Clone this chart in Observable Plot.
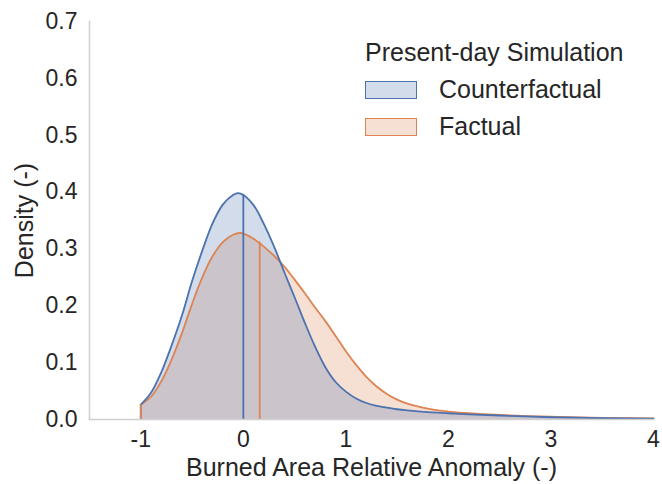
<!DOCTYPE html>
<html>
<head>
<meta charset="utf-8">
<script src="https://cdn.jsdelivr.net/npm/d3@7"></script>
<script src="https://cdn.jsdelivr.net/npm/@observablehq/plot@0.6"></script>
<style>
  body { margin: 0; background: #ffffff; }
  #wrap { position: relative; width: 662px; height: 484px; font-family: "Liberation Sans", Arial, sans-serif; color: #262626; }
  #wrap svg { font-family: "Liberation Sans", Arial, sans-serif; }
  #wrap svg [aria-label="x-axis label"] text, #wrap svg [aria-label="y-axis label"] text { font-size: 25px; }
  .legend { position: absolute; left: 365px; top: 37px; }
  .legend .title { font-size: 25px; line-height: 30px; white-space: nowrap; }
  .legend .item { position: relative; height: 36.5px; }
  .legend .sw { position: absolute; left: 0; top: 8px; width: 50px; height: 16px; border-width: 1.5px; border-style: solid; }
  .legend .lab { position: absolute; left: 74px; top: 1px; font-size: 25px; line-height: 30px; white-space: nowrap; }
</style>
</head>
<body>
<div id="wrap"></div>
<script>
// Counterfactual (blue) density curve
const cfX = [-1.0, -0.9, -0.8, -0.7, -0.6, -0.5, -0.4, -0.3, -0.2, -0.1, -0.05, 0.0, 0.1, 0.2, 0.3, 0.4, 0.5, 0.6, 0.7, 0.8, 0.9, 1.0, 1.1, 1.2, 1.3, 1.4, 1.5, 1.6, 1.8, 2.0, 2.2, 2.5, 3.0, 3.5, 4.0];
const cfY = [0.026, 0.047, 0.083, 0.130, 0.182, 0.243, 0.297, 0.345, 0.378, 0.395, 0.398, 0.395, 0.377, 0.344, 0.304, 0.259, 0.215, 0.170, 0.128, 0.092, 0.066, 0.049, 0.037, 0.029, 0.024, 0.021, 0.018, 0.016, 0.013, 0.011, 0.009, 0.007, 0.004, 0.0025, 0.0015];
// Factual (orange) density curve
const fX = [-1.0, -0.9, -0.8, -0.7, -0.6, -0.5, -0.4, -0.3, -0.2, -0.1, -0.03, 0.0, 0.1, 0.2, 0.3, 0.4, 0.5, 0.6, 0.7, 0.8, 0.9, 1.0, 1.1, 1.2, 1.3, 1.4, 1.5, 1.6, 1.7, 1.8, 1.9, 2.0, 2.2, 2.5, 3.0, 3.5, 4.0];
const fY = [0.026, 0.040, 0.067, 0.105, 0.151, 0.203, 0.250, 0.287, 0.312, 0.325, 0.328, 0.327, 0.318, 0.304, 0.288, 0.269, 0.246, 0.222, 0.197, 0.173, 0.147, 0.120, 0.096, 0.075, 0.058, 0.045, 0.035, 0.028, 0.023, 0.019, 0.016, 0.014, 0.011, 0.008, 0.005, 0.003, 0.002];
// Central values (vertical lines)
const centerX = [0.0, 0.16];
const centerY = [0.396, 0.312];

const seriesNames = ["Counterfactual", "Factual"];
const seriesColors = ["#4c72b0", "#dd8452"];
const xTicks = [-1, 0, 1, 2, 3, 4];
const yTicks = [0, 0.1, 0.2, 0.3, 0.4, 0.5, 0.6, 0.7];
const legendTitle = "Present-day Simulation";
const xLabel = "Burned Area Relative Anomaly (-)";
const yLabel = "Density (-)";

const cf = cfX.map((x, i) => ({x, y: cfY[i], s: seriesNames[0]}));
const fa = fX.map((x, i) => ({x, y: fY[i], s: seriesNames[1]}));
const centers = seriesNames.map((s, i) => ({s, x: centerX[i], y: centerY[i]}));
const starts = [cf[0], fa[0]];

const color = {domain: seriesNames, range: seriesColors};
const textColor = "#262626";
const curve = "catmull-rom";

const plot = Plot.plot({
  width: 662,
  height: 484,
  marginLeft: 89,
  marginRight: 9,
  marginTop: 21,
  marginBottom: 65,
  style: {background: "transparent", color: textColor},
  x: {domain: [-1.5, 4]},
  y: {domain: [0, 0.7]},
  color,
  marks: [
    Plot.areaY(fa, {x: "x", y: "y", fill: "s", fillOpacity: 0.25, curve}),
    Plot.areaY(cf, {x: "x", y: "y", fill: "s", fillOpacity: 0.25, curve}),
    Plot.line(fa, {x: "x", y: "y", stroke: "s", strokeWidth: 1.8, curve}),
    Plot.line(cf, {x: "x", y: "y", stroke: "s", strokeWidth: 1.8, curve}),
    Plot.ruleX(starts, {x: "x", y1: 0, y2: "y", stroke: "s", strokeWidth: 1.8}),
    Plot.ruleX(centers, {x: "x", y1: 0, y2: "y", stroke: "s", strokeWidth: 1.8}),
    Plot.frame({anchor: "left", stroke: "#d0d0d0", strokeWidth: 1.6}),
    Plot.frame({anchor: "bottom", stroke: "#d0d0d0", strokeWidth: 1.6}),
    Plot.axisX({ticks: xTicks, tickFormat: d => d < 0 ? "-" + Math.abs(d) : String(d), tickSize: 0, tickPadding: 11, fontSize: 23, label: xLabel, labelAnchor: "center", labelOffset: 56, labelArrow: false}),
    Plot.axisY({ticks: yTicks, tickFormat: d3.format(".1f"), tickSize: 0, tickPadding: 12, fontSize: 23, label: yLabel, labelAnchor: "center", labelOffset: 74, labelArrow: false})
  ]
});

const wrap = document.getElementById("wrap");
wrap.appendChild(plot);

// Legend overlay
const legend = document.createElement("div");
legend.className = "legend";
const t = document.createElement("div");
t.className = "title";
t.textContent = legendTitle;
legend.appendChild(t);
const gap = document.createElement("div");
gap.style.height = "6px";
legend.appendChild(gap);
seriesNames.forEach((name, i) => {
  const item = document.createElement("div");
  item.className = "item";
  const sw = document.createElement("div");
  sw.className = "sw";
  const c = d3.color(seriesColors[i]);
  sw.style.borderColor = seriesColors[i];
  sw.style.background = `rgba(${c.r},${c.g},${c.b},0.25)`;
  const lab = document.createElement("div");
  lab.className = "lab";
  lab.textContent = name;
  item.appendChild(sw);
  item.appendChild(lab);
  legend.appendChild(item);
});
wrap.appendChild(legend);
</script>
</body>
</html>
